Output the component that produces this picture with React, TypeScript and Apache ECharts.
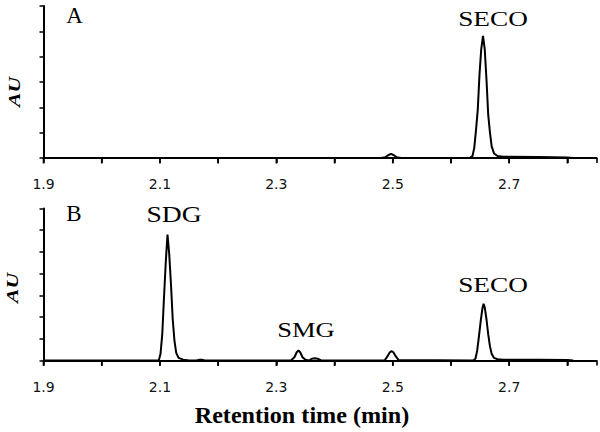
import React, { useEffect, useRef } from "react";
import * as echarts from "echarts";

// Panel A trace: retention time (min) and absorbance (AU)
const timesA = [1.9, 2.48, 2.487, 2.492, 2.497, 2.502, 2.507, 2.514, 2.632, 2.637, 2.64, 2.643, 2.646, 2.649, 2.652, 2.655, 2.658, 2.661, 2.664, 2.667, 2.67, 2.674, 2.68, 2.69, 2.75, 2.8, 2.81];
const auA = [0, 0, 0.03, 0.11, 0.16, 0.11, 0.03, 0, 0, 0.08, 0.4, 1.1, 1.9, 3.3, 4.3, 4.82, 4.3, 3.1, 1.7, 1.0, 0.45, 0.18, 0.08, 0.05, 0.04, 0.02, 0];

// Panel B trace
const timesB = [1.9, 2.098, 2.101, 2.104, 2.107, 2.11, 2.113, 2.116, 2.119, 2.122, 2.125, 2.128, 2.132, 2.14, 2.15, 2.163, 2.168, 2.172, 2.177, 2.325, 2.331, 2.335, 2.338, 2.341, 2.345, 2.35, 2.356, 2.361, 2.366, 2.371, 2.377, 2.486, 2.491, 2.495, 2.498, 2.501, 2.505, 2.51, 2.638, 2.642, 2.645, 2.648, 2.651, 2.654, 2.656, 2.658, 2.661, 2.664, 2.667, 2.67, 2.674, 2.68, 2.69, 2.75, 2.8, 2.81];
const auB = [0, 0, 0.3, 1.2, 2.9, 4.5, 5.8, 4.9, 3.5, 1.9, 0.9, 0.35, 0.12, 0.04, 0, 0, 0.04, 0.04, 0, 0, 0.15, 0.38, 0.46, 0.38, 0.15, 0.03, 0, 0.08, 0.1, 0.08, 0, 0, 0.2, 0.38, 0.43, 0.38, 0.2, 0.02, 0, 0.08, 0.45, 1.1, 1.8, 2.4, 2.61, 2.45, 1.9, 1.2, 0.65, 0.3, 0.12, 0.06, 0.04, 0.03, 0.02, 0];

// Axis ticks and labels
const xMin = 1.9;
const xMax = 2.85;
const xTickValues = [1.9, 2.0, 2.1, 2.2, 2.3, 2.4, 2.5, 2.6, 2.7, 2.8];
const xLabelValues = ["1.9", "2.1", "2.3", "2.5", "2.7"];
const yMaxA = 6;
const yMaxB = 7;

// Annotations
const panelLabels = ["A", "B"];
const peakNamesA = ["SECO"];
const peakNamesB = ["SDG", "SMG", "SECO"];
const yAxisTitle = "AU";
const xAxisTitle = "Retention time (min)";

const pair = (t: number[], v: number[]) => t.map((x, i) => [x, v[i]]);

export default function App() {
  const ref = useRef<HTMLDivElement>(null);
  useEffect(() => {
    if (!ref.current) return;
    const chart = echarts.init(ref.current, undefined, { renderer: "svg" });
    const serif = "'Liberation Serif', 'Times New Roman', serif";
    const makeX = (gridIndex: number) => ({
      type: "value",
      gridIndex,
      min: xMin,
      max: xMax,
      interval: 0.1,
      axisLine: { show: true, onZero: false, lineStyle: { color: "#000", width: 2 } },
      axisTick: { show: true, length: 5, lineStyle: { color: "#000", width: 1.6 } },
      axisLabel: {
        formatter: (v: number) => {
          const s = v.toFixed(1);
          return xLabelValues.indexOf(s) >= 0 && Math.abs(v - parseFloat(s)) < 1e-6 ? s : "";
        },
        fontFamily: "DejaVu Sans",
        fontSize: 14,
        color: "#111",
        margin: 19,
      },
      splitLine: { show: false },
    });
    const makeY = (gridIndex: number, max: number) => ({
      type: "value",
      gridIndex,
      min: 0,
      max,
      interval: 1,
      axisLine: { show: true, onZero: false, lineStyle: { color: "#000", width: 2 } },
      axisTick: { show: true, length: 4, lineStyle: { color: "#000", width: 1.5 } },
      axisLabel: { show: false },
      splitLine: { show: false },
    });
    const txt = (
      text: string,
      x: number,
      y: number,
      fontSize: number,
      extra: any = {},
      scaleX = 1,
      rotation = 0
    ) => ({
      type: "text",
      x,
      y,
      scaleX,
      rotation,
      style: {
        text,
        fontFamily: serif,
        fontSize,
        fill: "#000",
        align: "center",
        verticalAlign: "middle",
        ...extra,
      },
    });
    const texts = [
      txt(panelLabels[0], 74.5, 15, 23),
      txt(panelLabels[1], 74, 213.5, 23),
      txt(peakNamesA[0], 493, 18, 22, {}, 1.24),
      txt(peakNamesB[0], 174, 213.5, 23, {}, 1.2),
      txt(peakNamesB[1], 306, 330.5, 20, {}, 1.33),
      txt(peakNamesB[2], 493, 284.5, 22, {}, 1.24),
      txt(yAxisTitle, 15, 92, 16, { fontStyle: "italic", fontWeight: "bold" }, 1.35, Math.PI / 2),
      txt(yAxisTitle, 13, 288, 16, { fontStyle: "italic", fontWeight: "bold" }, 1.35, Math.PI / 2),
      txt(xAxisTitle, 302, 415, 23, { fontWeight: "bold" }, 1.05),
    ];
    chart.setOption({
      animation: false,
      backgroundColor: "#fff",
      grid: [
        { left: 43.5, top: 6, width: 553, height: 152 },
        { left: 43.5, top: 208.5, width: 553, height: 152 },
      ],
      xAxis: [makeX(0), makeX(1)],
      yAxis: [makeY(0, yMaxA), makeY(1, yMaxB)],
      series: [
        {
          type: "line",
          xAxisIndex: 0,
          yAxisIndex: 0,
          data: pair(timesA, auA),
          showSymbol: false,
          lineStyle: { color: "#000", width: 2 },
        },
        {
          type: "line",
          xAxisIndex: 1,
          yAxisIndex: 1,
          data: pair(timesB, auB),
          showSymbol: false,
          lineStyle: { color: "#000", width: 2 },
        },
      ],
      graphic: texts,
    });
    // Tick marks placed through the library's own scales
    const tickLines: any[] = [];
    [0, 1].forEach((gi) => {
      xTickValues.forEach((v) => {
        const p = chart.convertToPixel({ xAxisIndex: gi, yAxisIndex: gi } as any, [v, 0]) as number[];
        if (p && isFinite(p[0]) && isFinite(p[1])) {
          tickLines.push({
            type: "line",
            z: 100,
            shape: { x1: p[0], y1: p[1], x2: p[0], y2: p[1] + 5.5 },
            style: { stroke: "#000", lineWidth: 1.6 },
          });
        }
      });
    });
    chart.setOption({ graphic: [...texts, ...tickLines] });
    return () => chart.dispose();
  }, []);
  return (
    <div
      ref={ref}
      style={{ position: "absolute", left: 0, top: 0, width: 600, height: 432, background: "#fff" }}
    />
  );
}
